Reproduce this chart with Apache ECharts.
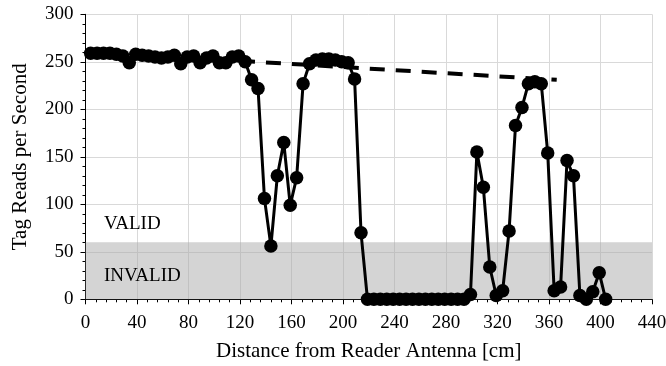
<!DOCTYPE html>
<html>
<head>
<meta charset="utf-8">
<script src="https://cdn.jsdelivr.net/npm/echarts@6/dist/echarts.min.js"></script>
<style>html,body{margin:0;padding:0;background:#fff}#c{width:666px;height:366px}</style>
</head>
<body>
<div id="c"></div>
<script>
// Distance (cm) of each measurement
const distances = [4,9,14,19,24,29,34,39,44,49,54,59,64,69,74,79,84,89,94,99,104,109,114,119,124,
  129,134,139,144,149,154,159,164,169,174,179,184,189,194,199,204,209,214,219,224,229,234,239,244,
  249,254,259,264,269,274,279,284,289,294,299,304,309,314,319,324,329,334,339,344,349,354,359,364,
  369,374,379,384,389,394,399,404];
// Tag reads per second
const reads = [259,259,259,259,258,256,249,258,257,256,255,254,255,257,248,255,256,249,254,256,249,249,255,256,250,
  231,222,106,56,130,165,99,128,227,248,252,253,253,252,250,249,232,70,0,0,0,0,0,0,
  0,0,0,0,0,0,0,0,0,0,5,155,118,34,4,9,72,183,202,227,229,227,154,9,
  13,146,130,4,0,8,28,0];
// Trend (dashed) line end points
const trendX = [120, 366];
const trendY = [251, 231];
// Valid/invalid threshold band
const bandLow = 0, bandHigh = 60;
const xTicks = {min: 0, max: 440, interval: 40};
const yTicks = {min: 0, max: 300, interval: 50};

const font = '"Liberation Serif", "Times New Roman", serif';
const chart = echarts.init(document.getElementById('c'), null, {renderer: 'canvas'});
chart.setOption({
  animation: false,
  backgroundColor: '#fff',
  grid: {left: 85.5, right: 14, top: 14.3, bottom: 66.7, containLabel: false, outerBoundsMode: 'none'},
  xAxis: {
    type: 'value', min: xTicks.min, max: xTicks.max, interval: xTicks.interval,
    name: 'Distance from Reader Antenna [cm]', nameLocation: 'middle', nameGap: 42,
    nameTextStyle: {fontFamily: font, fontSize: 21, color: '#000'},
    axisLine: {show: true, onZero: false, lineStyle: {color: '#000', width: 1}},
    axisTick: {show: true, inside: false, length: 5, lineStyle: {color: '#000'}},
    minorTick: {show: true, splitNumber: 5, length: 3, lineStyle: {color: '#000'}},
    axisLabel: {fontFamily: font, fontSize: 19, color: '#000', margin: 14},
    splitLine: {show: true, lineStyle: {color: '#d9d9d9', width: 1}}
  },
  yAxis: {
    type: 'value', min: yTicks.min, max: yTicks.max, interval: yTicks.interval,
    name: 'Tag Reads per Second', nameLocation: 'middle', nameGap: 55,
    nameTextStyle: {fontFamily: font, fontSize: 21, color: '#000'},
    axisLine: {show: true, lineStyle: {color: '#000', width: 1}},
    axisTick: {show: true, inside: false, length: 5, lineStyle: {color: '#000'}},
    minorTick: {show: true, splitNumber: 5, length: 3, lineStyle: {color: '#000'}},
    axisLabel: {fontFamily: font, fontSize: 19, color: '#000', margin: 12},
    splitLine: {show: true, lineStyle: {color: '#d9d9d9', width: 1}}
  },
  series: [
    {
      type: 'line', z: 3,
      data: distances.map((d, i) => [d, reads[i]]),
      symbol: 'circle', symbolSize: 13.5,
      lineStyle: {color: '#000', width: 3},
      itemStyle: {color: '#000'}
    },
    {
      type: 'line', z: 4,
      data: trendX.map((d, i) => [d, trendY[i]]),
      symbol: 'none',
      lineStyle: {color: '#000', width: 4, type: [15, 11]}
    },
    {
      type: 'line', z: 5, data: [], symbol: 'none',
      markArea: {
        silent: true,
        itemStyle: {color: 'rgba(170,170,170,0.5)'},
        data: [[{yAxis: bandLow}, {yAxis: bandHigh}]]
      }
    }
  ],
  graphic: [
    {type: 'text', left: 104, top: 215, z: 100,
     style: {text: 'VALID', font: '19px ' + font, fill: '#000'}},
    {type: 'text', left: 104, top: 267, z: 100,
     style: {text: 'INVALID', font: '19px ' + font, fill: '#000'}}
  ]
});
</script>
</body>
</html>
